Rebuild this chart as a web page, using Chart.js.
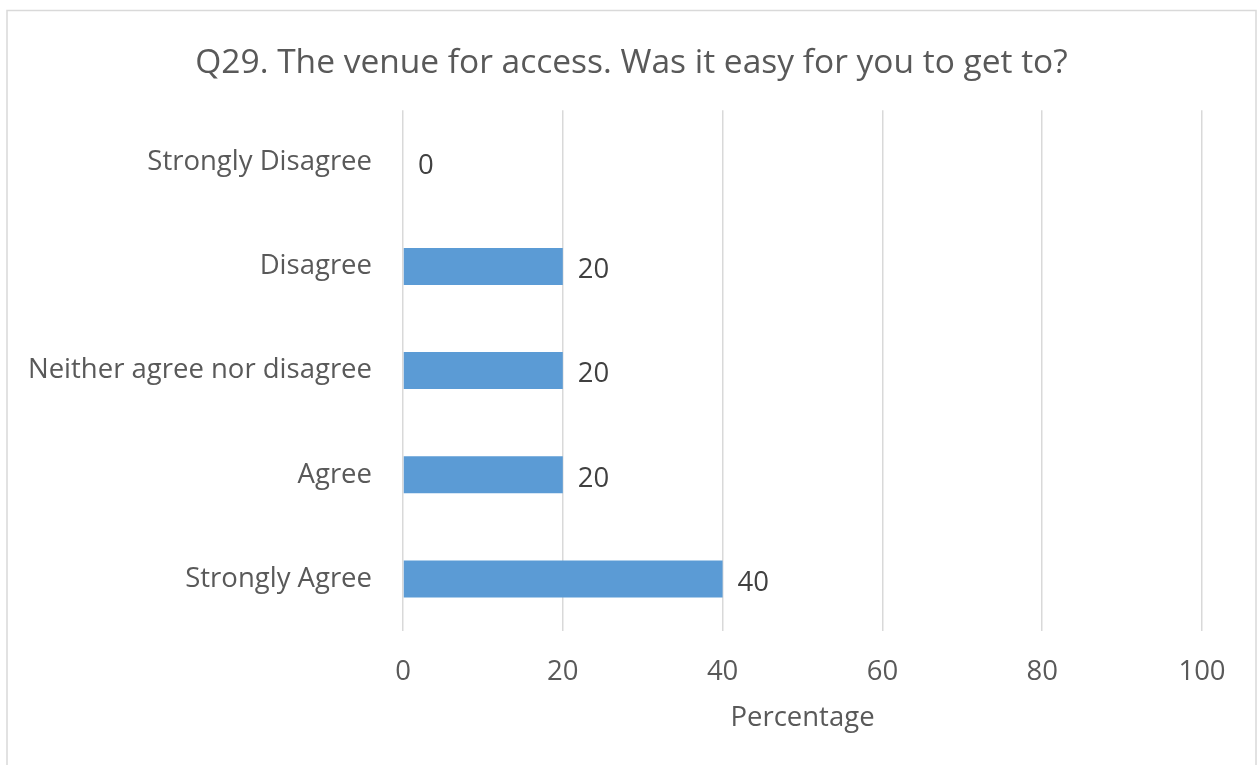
<!DOCTYPE html>
<html>
<head>
<meta charset="utf-8">
<script src="https://cdn.jsdelivr.net/npm/chart.js@4/dist/chart.umd.min.js"></script>
<style>
  html, body { margin: 0; padding: 0; background: #ffffff; }
  #wrap { position: relative; width: 1257px; height: 765px; }
</style>
</head>
<body>
<div id="wrap"><canvas id="chart" width="1257" height="765"></canvas></div>
<script>
// Survey responses, percent of respondents
const categories = ['Strongly Disagree', 'Disagree', 'Neither agree nor disagree', 'Agree', 'Strongly Agree'];
const percentages = [0, 20, 20, 20, 40];
const chartTitle = 'Q29. The venue for access. Was it easy for you to get to?';
const axisTitle = 'Percentage';

const FONT = '"Open Sans", Lato, sans-serif';
const LABEL_SIZE = 27.5;

// Frame around the whole chart
const framePlugin = {
  id: 'frame',
  beforeDraw(chart) {
    const ctx = chart.ctx;
    ctx.save();
    ctx.fillStyle = '#ffffff';
    ctx.fillRect(0, 0, chart.width, chart.height);
    ctx.strokeStyle = '#d9d9d9';
    ctx.lineWidth = 1.5;
    ctx.strokeRect(7, 10.5, 1249, 820);
    ctx.restore();
  }
};

// Value labels placed just past the end of each bar
const valueLabels = {
  id: 'valueLabels',
  afterDatasetsDraw(chart) {
    const ctx = chart.ctx;
    const meta = chart.getDatasetMeta(0);
    ctx.save();
    ctx.font = LABEL_SIZE + 'px ' + FONT;
    ctx.fillStyle = '#404040';
    ctx.textAlign = 'left';
    ctx.textBaseline = 'middle';
    meta.data.forEach((bar, i) => {
      ctx.fillText(String(chart.data.datasets[0].data[i]), bar.x + 15, bar.y + 4);
    });
    ctx.restore();
  }
};

new Chart(document.getElementById('chart'), {
  type: 'bar',
  data: {
    labels: categories,
    datasets: [{
      data: percentages,
      backgroundColor: '#5b9bd5',
      borderWidth: 0,
      categoryPercentage: 1,
      barPercentage: 0.355
    }]
  },
  plugins: [framePlugin, valueLabels],
  options: {
    indexAxis: 'y',
    responsive: false,
    animation: false,
    layout: { padding: { left: 6, right: 0, top: 0, bottom: 0 } },
    plugins: {
      legend: { display: false },
      tooltip: { enabled: false },
      title: {
        display: true,
        text: chartTitle,
        color: '#595959',
        font: { family: FONT, size: 33.5, weight: 'normal', lineHeight: 1.2 },
        padding: { top: 43, bottom: 27 }
      }
    },
    scales: {
      x: {
        min: 0,
        max: 100,
        ticks: {
          stepSize: 20,
          color: '#595959',
          font: { family: FONT, size: LABEL_SIZE },
          padding: 25
        },
        grid: { color: '#d9d9d9', lineWidth: 1.5, drawTicks: false },
        border: { display: false },
        title: {
          display: true,
          text: axisTitle,
          color: '#595959',
          font: { family: FONT, size: LABEL_SIZE },
          padding: { top: 10, bottom: 30 }
        },
        afterFit(scale) { scale.height = 134; }
      },
      y: {
        ticks: {
          color: '#595959',
          font: { family: FONT, size: LABEL_SIZE },
          padding: 31
        },
        grid: { display: false, drawTicks: false },
        border: { display: false },
        afterFit(scale) { scale.width = 397; }
      },
      // empty right-hand margin beside the plot
      yRight: {
        type: 'linear',
        position: 'right',
        display: true,
        ticks: { display: false },
        grid: { display: false, drawTicks: false },
        border: { display: false },
        afterFit(scale) { scale.width = 55; }
      }
    }
  }
});
</script>
</body>
</html>
